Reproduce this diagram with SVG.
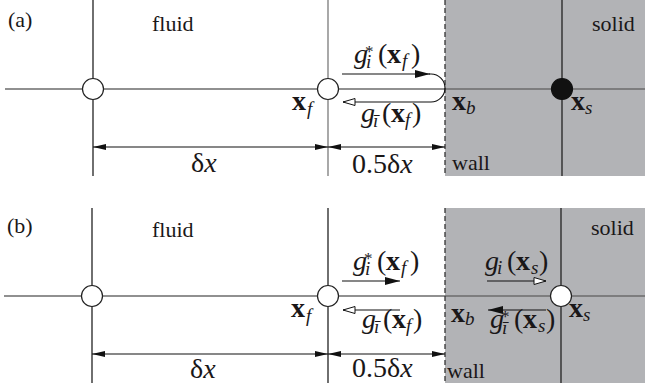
<svg xmlns="http://www.w3.org/2000/svg" width="645" height="390" viewBox="0 0 645 390" font-family="'Liberation Serif', 'Times New Roman', Times, serif">
<defs>
<style>
text{font-family:'Liberation Serif','Times New Roman',Times,serif;fill:#1a1718}
.lbl{font-size:22px}
.m{font-size:28px}
.it{font-style:italic}
.bf{font-weight:bold}
.s{font-size:19px}
.st{font-size:17px}
.solid{fill:#b2b3b6}
.h{stroke:#6b6b6b;stroke-width:1.5;fill:none}
.v{stroke:#222;stroke-width:1.3;fill:none}
.vg{stroke:#7a7a7a;stroke-width:1.3;fill:none}
.wall{stroke:#333;stroke-width:1.3;stroke-dasharray:5,3;fill:none}
.node{fill:#fff;stroke:#222;stroke-width:1.2}
.nodef{fill:#111;stroke:#111;stroke-width:1.2}
.dim{stroke:#111;stroke-width:1.1;fill:none;marker-start:url(#dh);marker-end:url(#dh)}
.fa{stroke:#111;stroke-width:1.1;fill:none;marker-end:url(#fh)}
.oa{stroke:#111;stroke-width:1.1;fill:none;marker-end:url(#oh)}
</style>
<marker id="dh" viewBox="0 0 13 6" refX="13" refY="3" markerWidth="13" markerHeight="6" markerUnits="userSpaceOnUse" orient="auto-start-reverse"><path d="M0,0 L13,3 L0,6 z" fill="#111"/></marker>
<marker id="fh" viewBox="0 0 15 8" refX="15" refY="4" markerWidth="15" markerHeight="8" markerUnits="userSpaceOnUse" orient="auto"><path d="M0,0 L15,4 L0,8 z" fill="#111"/></marker>
<marker id="oh" viewBox="-1 -1 14 9" refX="12" refY="3.5" markerWidth="14" markerHeight="9" markerUnits="userSpaceOnUse" orient="auto"><path d="M0,0 L12,3.5 L0,7 z" fill="#fff" stroke="#111" stroke-width="1"/></marker>
</defs>

<!-- Panel (a) -->
<g id="panel-a">
  <rect class="solid" x="445" y="0" width="200" height="176"/>
  <line class="h" x1="5" y1="89" x2="645" y2="89"/>
  <line class="v" x1="93" y1="0" x2="93" y2="176"/>
  <line class="vg" x1="328" y1="0" x2="328" y2="176"/>
  <line class="v" x1="562" y1="0" x2="562" y2="176"/>
  <line class="wall" x1="445" y1="0" x2="445" y2="176"/>
  <text class="lbl" x="8" y="27">(a)</text>
  <text class="lbl" x="152" y="31">fluid</text>
  <text class="lbl" x="592" y="31">solid</text>
  <text class="lbl" x="452" y="170">wall</text>
  <g id="a-node-1"><circle class="node" cx="93" cy="89" r="10.5"/></g>
  <g id="a-node-xf"><circle class="node" cx="328" cy="89" r="10.5"/>
    <text class="m"><tspan class="bf" x="292" y="110">x</tspan><tspan class="s it" x="307" y="115">f</tspan></text></g>
  <g id="a-node-xb"><text class="m"><tspan class="bf" x="452" y="110">x</tspan><tspan class="s it" x="466" y="114">b</tspan></text></g>
  <g id="a-node-xs"><circle class="nodef" cx="562" cy="89" r="10.5"/>
    <text class="m"><tspan class="bf" x="571" y="110">x</tspan><tspan class="s it" x="585" y="114">s</tspan></text></g>
  <g id="a-connectors">
    <line class="fa" x1="342" y1="74" x2="430" y2="74"/>
    <path class="oa" d="M429,74 H431 A14,14 0 0 1 431,102 H343"/>
    <line class="dim" x1="93" y1="147" x2="328" y2="147"/>
    <line class="dim" x1="328" y1="147" x2="445" y2="147"/>
  </g>
  <text class="m"><tspan class="it" x="354" y="63">g</tspan><tspan class="st" x="365" y="57">*</tspan><tspan class="s it" x="366" y="68">i</tspan><tspan x="378" y="63">(</tspan><tspan class="bf" x="387" y="63">x</tspan><tspan class="s it" x="402" y="67">f</tspan><tspan x="411" y="63">)</tspan></text>
  <text class="m"><tspan class="it" x="361" y="122">g</tspan><tspan class="s it" x="373" y="127">ī</tspan><tspan x="382" y="122">(</tspan><tspan class="bf" x="391" y="122">x</tspan><tspan class="s it" x="405" y="126">f</tspan><tspan x="412" y="122">)</tspan></text>
  <text class="m" x="191" y="172">δ<tspan class="it">x</tspan></text>
  <text class="m" x="352" y="173">0.5δ<tspan class="it">x</tspan></text>
</g>

<!-- Panel (b) -->
<g id="panel-b">
  <rect class="solid" x="445" y="208" width="200" height="175"/>
  <line class="h" x1="4" y1="296" x2="645" y2="296"/>
  <line class="v" x1="92" y1="208" x2="92" y2="383"/>
  <line class="v" x1="328" y1="208" x2="328" y2="383"/>
  <line class="v" x1="561" y1="208" x2="561" y2="383"/>
  <line class="wall" x1="445" y1="208" x2="445" y2="383"/>
  <text class="lbl" x="7" y="233">(b)</text>
  <text class="lbl" x="152" y="237">fluid</text>
  <text class="lbl" x="591" y="235">solid</text>
  <text class="lbl" x="447" y="378">wall</text>
  <g id="b-node-1"><circle class="node" cx="92" cy="296" r="10.5"/></g>
  <g id="b-node-xf"><circle class="node" cx="328" cy="296" r="10.5"/>
    <text class="m"><tspan class="bf" x="291" y="317">x</tspan><tspan class="s it" x="306" y="322">f</tspan></text></g>
  <g id="b-node-xb"><text class="m"><tspan class="bf" x="451" y="322">x</tspan><tspan class="s it" x="465" y="325">b</tspan></text></g>
  <g id="b-node-xs"><circle class="node" cx="561" cy="296" r="10.5"/>
    <text class="m"><tspan class="bf" x="569" y="317">x</tspan><tspan class="s it" x="583" y="321">s</tspan></text></g>
  <g id="b-connectors">
    <line class="fa" x1="342" y1="281" x2="400" y2="281"/>
    <line class="oa" x1="400" y1="310" x2="343" y2="310"/>
    <line class="oa" x1="487" y1="281" x2="546" y2="281"/>
    <line class="fa" x1="546" y1="310" x2="488" y2="310"/>
    <line class="dim" x1="92" y1="354" x2="328" y2="354"/>
    <line class="dim" x1="328" y1="354" x2="445" y2="354"/>
  </g>
  <text class="m"><tspan class="it" x="353" y="270">g</tspan><tspan class="st" x="364" y="264">*</tspan><tspan class="s it" x="365" y="275">i</tspan><tspan x="377" y="270">(</tspan><tspan class="bf" x="386" y="270">x</tspan><tspan class="s it" x="401" y="274">f</tspan><tspan x="410" y="270">)</tspan></text>
  <text class="m"><tspan class="it" x="362" y="328">g</tspan><tspan class="s it" x="374" y="333">ī</tspan><tspan x="383" y="328">(</tspan><tspan class="bf" x="392" y="328">x</tspan><tspan class="s it" x="406" y="332">f</tspan><tspan x="413" y="328">)</tspan></text>
  <text class="m"><tspan class="it" x="485" y="270">g</tspan><tspan class="s it" x="497" y="274">i</tspan><tspan x="507" y="270">(</tspan><tspan class="bf" x="516" y="270">x</tspan><tspan class="s it" x="531" y="274">s</tspan><tspan x="539" y="270">)</tspan></text>
  <text class="m"><tspan class="it" x="490" y="328">g</tspan><tspan class="st" x="501" y="322">*</tspan><tspan class="s it" x="502" y="334">ī</tspan><tspan x="514" y="328">(</tspan><tspan class="bf" x="523" y="328">x</tspan><tspan class="s it" x="538" y="332">s</tspan><tspan x="546" y="328">)</tspan></text>
  <text class="m" x="190" y="378">δ<tspan class="it">x</tspan></text>
  <text class="m" x="352" y="377">0.5δ<tspan class="it">x</tspan></text>
</g>
</svg>
